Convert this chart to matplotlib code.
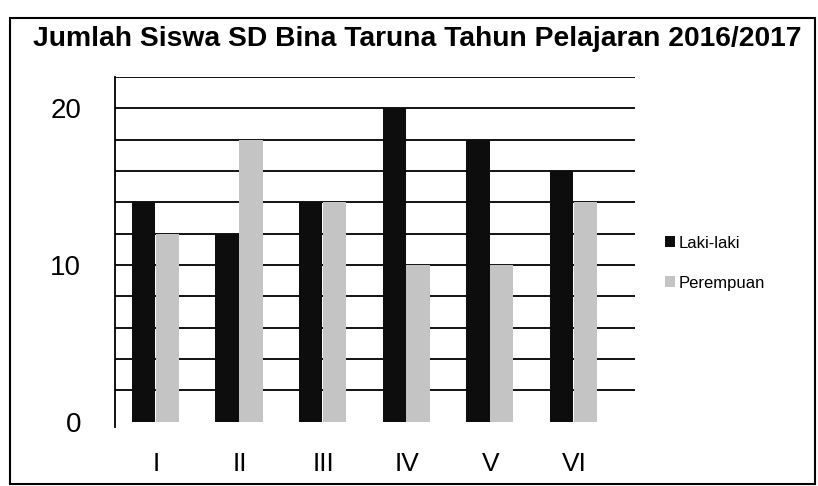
import numpy as np
import matplotlib.pyplot as plt
from matplotlib.patches import Rectangle

kelas = ["I", "II", "III", "IV", "V", "VI"]
laki_laki = [14, 12, 14, 20, 18, 16]
perempuan = [12, 18, 14, 10, 10, 14]

plt.rcParams['font.family'] = ['Liberation Sans', 'DejaVu Sans']

fig = plt.figure(figsize=(8.18, 4.86), dpi=100)
ax = fig.add_axes([0.14, 0.132, 0.636, 0.71])

x = np.arange(len(kelas))
w = 0.28
ax.bar(x - 0.155, laki_laki, w, color="#0d0d0d", label="Laki-laki", zorder=3)
ax.bar(x + 0.13, perempuan, w, color="#c4c4c4", label="Perempuan", zorder=3)

ax.set_xlim(-0.5, 5.72)
ax.set_ylim(0, 22)
ax.set_yticks([0, 10, 20])
for g in range(2, 23, 2):
    ax.axhline(g, color="black", linewidth=1.3, zorder=0)
ax.tick_params(axis="y", length=0, pad=24, labelsize=20)
ax.tick_params(axis="x", length=0, pad=22, labelsize=19)
ax.set_xticks(x)
ax.set_xticklabels(kelas)
for s in ["top", "right", "bottom"]:
    ax.spines[s].set_visible(False)
ax.spines["left"].set_linewidth(1.3)
ax.spines["left"].set_bounds(-0.3, 22)

fig.text(0.04, 0.92, "Jumlah Siswa SD Bina Taruna Tahun Pelajaran 2016/2017",
         fontsize=20.3, fontweight="bold", va="center")

ax.legend(loc="center left", bbox_to_anchor=(1.03, 0.46), frameon=False,
          fontsize=12, handlelength=0.6, handleheight=0.6, labelspacing=1.5,
          handletextpad=0.2)

fig.patches.append(Rectangle((0.012, 0.005), 0.984, 0.958, transform=fig.transFigure,
                             fill=False, edgecolor="black", linewidth=1.5))

fig.savefig("out.png", dpi=100)
